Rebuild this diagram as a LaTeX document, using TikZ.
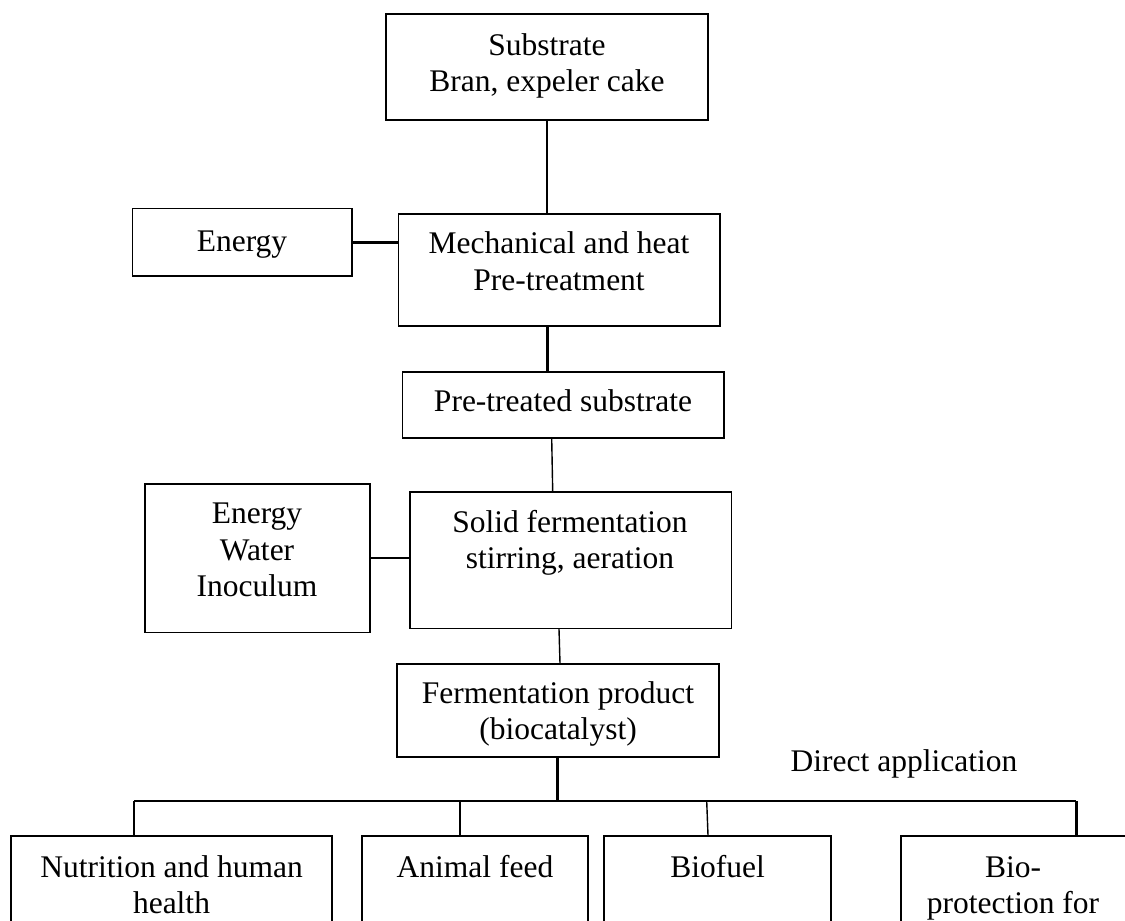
\documentclass[tikz,border=0pt]{standalone}
\usepackage{fontspec}
\setmainfont{Liberation Serif}
\usetikzlibrary{calc}
\newcommand{\tfont}{\fontsize{31.5pt}{36.5pt}\selectfont}
\begin{document}
\begin{tikzpicture}[x=1pt,y=-1pt,
  box/.style={draw, line width=1.6pt, rectangle, inner sep=0pt},
  txt/.style={align=center, inner sep=0pt, anchor=north, yshift=25.55pt, font=\tfont},
  lite/.style={line width=1.4pt},
  heavy/.style={line width=3pt},
  busline/.style={line width=1.8pt}]
\useasboundingbox (0,0) rectangle (1125,921);
\clip (0,0) rectangle (1125,921);
% boxes
\node[box, minimum width=322pt, minimum height=106pt] (sub) at (547,67) {};
\node[box, minimum width=219.4pt, minimum height=67.7pt] (en) at (242,242.15) {};
\node[box, minimum width=321.7pt, minimum height=111.5pt] (mech) at (559.15,269.95) {};
\node[box, minimum width=321.7pt, minimum height=66pt] (pre) at (563.15,404.7) {};
\node[box, minimum width=225.3pt, minimum height=148.3pt] (ewi) at (257.35,558.15) {};
\node[box, minimum width=321.6pt, minimum height=136.1pt] (sol) at (570.5,560.25) {};
\node[box, minimum width=321.7pt, minimum height=92.7pt] (fer) at (557.85,710.35) {};
\node[box, minimum width=321pt, minimum height=200pt] (nut) at (171.5,936) {};
\node[box, minimum width=226pt, minimum height=200pt] (ani) at (475,936) {};
\node[box, minimum width=227pt, minimum height=200pt] (bfu) at (717.5,936) {};
\node[box, minimum width=226pt, minimum height=200pt] (bpr) at (1014,936) {};
% texts
\node[txt] (tsub) at (547,55) {\strut Substrate\\Bran, expeler cake};
\node[txt] (ten) at (242,251) {\strut Energy};
\node[txt] (tmech) at (559,253.5) {\strut Mechanical and heat\\Pre-treatment};
\node[txt] (tpre) at (563,411) {\strut Pre-treated substrate};
\node[txt] (tewi) at (257,523.5) {\strut Energy\\Water\\Inoculum};
\node[txt] (tsol) at (570,532) {\strut Solid fermentation\\stirring, aeration};
\node[txt] (tfer) at (558,703) {\strut Fermentation product\\(biocatalyst)};
\node[txt] (tdir) at (904,771) {\strut Direct application};
\node[txt] (tnut) at (171.5,877) {\strut Nutrition and human\\health};
\node[txt] (tani) at (475,877) {\strut Animal feed};
\node[txt] (tbfu) at (717.5,877) {\strut Biofuel};
\node[txt] (tbpr) at (1013,877) {\strut Bio-\\protection for};
% connectors
\draw[lite] (sub.south) -- (sub.south |- mech.north);
\draw[heavy] (en.east) -- (en.east -| mech.west);
\coordinate (m1) at (547.6,0);
\draw[heavy] (m1 |- mech.south) -- (m1 |- pre.north);
\draw[lite] ($(pre.south)+(-11.45,0)$) -- ($(sol.north)+(-17.8,0)$);
\draw[lite] (ewi.east) -- (ewi.east -| sol.west);
\draw[lite] ($(sol.south)+(-11.5,0)$) -- ($(fer.north)+(2.15,0)$);
\coordinate (busL) at (134,801);
\coordinate (busR) at (1076,801);
\draw[heavy] (fer.south) -- (fer.south |- busL);
\draw[busline] (busL) -- (busR);
\draw[lite] (busL) -- (busL |- nut.north);
\coordinate (dA) at (460,801);
\draw[lite] (dA) -- (dA |- ani.north);
\coordinate (dB) at (706.7,801);
\draw[lite] (dB) -- ($(bfu.north)+(-9.5,0)$);
\draw[heavy] (busR) -- (busR |- bpr.north);
\end{tikzpicture}
\end{document}
